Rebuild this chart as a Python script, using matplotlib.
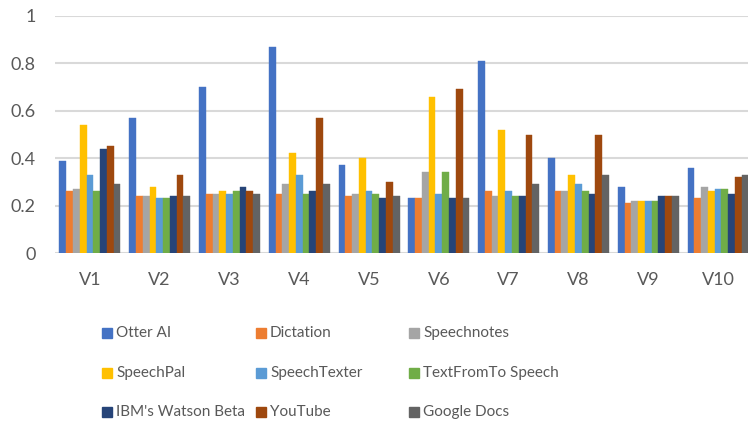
import numpy as np
import matplotlib.pyplot as plt
from matplotlib.patches import Rectangle

plt.rcParams['font.family'] = ['Lato', 'DejaVu Sans']

versions = ['V1', 'V2', 'V3', 'V4', 'V5', 'V6', 'V7', 'V8', 'V9', 'V10']

otter_ai = [0.39, 0.57, 0.70, 0.87, 0.37, 0.23, 0.81, 0.40, 0.28, 0.36]
dictation = [0.26, 0.24, 0.25, 0.25, 0.24, 0.23, 0.26, 0.26, 0.21, 0.23]
speechnotes = [0.27, 0.24, 0.25, 0.29, 0.25, 0.34, 0.24, 0.26, 0.22, 0.28]
speechpal = [0.54, 0.28, 0.26, 0.42, 0.40, 0.66, 0.52, 0.33, 0.22, 0.26]
speechtexter = [0.33, 0.23, 0.25, 0.33, 0.26, 0.25, 0.26, 0.29, 0.22, 0.27]
textfromto = [0.26, 0.23, 0.26, 0.25, 0.25, 0.34, 0.24, 0.26, 0.22, 0.27]
ibm_watson = [0.44, 0.24, 0.28, 0.26, 0.23, 0.23, 0.24, 0.25, 0.24, 0.25]
youtube = [0.45, 0.33, 0.26, 0.57, 0.30, 0.69, 0.50, 0.50, 0.24, 0.32]
google_docs = [0.29, 0.24, 0.25, 0.29, 0.24, 0.23, 0.29, 0.33, 0.24, 0.33]

series_names = ['Otter AI', 'Dictation', 'Speechnotes', 'SpeechPal', 'SpeechTexter',
                'TextFromTo Speech', "IBM's Watson Beta", 'YouTube', 'Google Docs']
series_values = [otter_ai, dictation, speechnotes, speechpal, speechtexter,
                 textfromto, ibm_watson, youtube, google_docs]
colors = ['#4472C4', '#ED7D31', '#A5A5A5', '#FFC000', '#5B9BD5',
          '#70AD47', '#264478', '#9E480E', '#636363']

text_color = '#595959'

fig = plt.figure(figsize=(7.48, 4.22), dpi=100)
ax = fig.add_axes([55 / 748, 1 - 253 / 422, 693 / 748, 237 / 422])

x = np.arange(len(versions))
n = len(series_values)
w = 0.097
for i, (vals, c) in enumerate(zip(series_values, colors)):
    offs = (i - (n - 1) / 2) * w
    ax.bar(x + offs, vals, width=w, color=c, edgecolor=c, linewidth=0.3, zorder=3)

ax.set_xlim(-0.5, 9.43)
ax.set_ylim(0, 1)
ax.set_yticks([0, 0.2, 0.4, 0.6, 0.8, 1])
ax.set_yticklabels(['0', '0.2', '0.4', '0.6', '0.8', '1'])
ax.set_xticks(x)
ax.set_xticklabels(versions)
ax.tick_params(axis='both', length=0, labelsize=13, labelcolor=text_color)
ax.tick_params(axis='y', pad=14)
ax.tick_params(axis='x', pad=14)
ax.yaxis.grid(True, color='#D9D9D9', linewidth=1.5, zorder=0)
ax.set_axisbelow(True)
for s in ax.spines.values():
    s.set_visible(False)

# legend laid out row by row, three equal columns
col_x = [102, 256, 409]
row_y = [333, 373, 412]
for i, (name, c) in enumerate(zip(series_names, colors)):
    px = col_x[i % 3]
    py = row_y[i // 3]
    fig.patches.append(Rectangle((px / 748, 1 - (py + 5) / 422), 10 / 748, 10 / 422,
                                 transform=fig.transFigure, color=c))
    fig.text((px + 14) / 748, 1 - py / 422, name, fontsize=11, color=text_color,
             va='center', ha='left')

fig.savefig('out.png', dpi=100)
